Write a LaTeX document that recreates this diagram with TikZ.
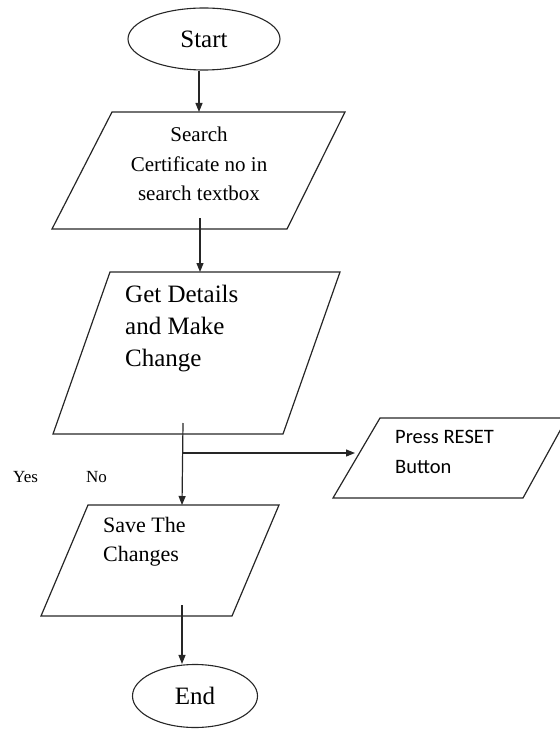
\documentclass[tikz,border=0pt]{standalone}
\usepackage{fontspec}
\setmainfont{Liberation Serif}
\newfontfamily\calib{Carlito}
\usetikzlibrary{arrows.meta,shapes.geometric}
\begin{document}
\begin{tikzpicture}[x=1pt,y=-1pt,
  shp/.style={draw=black!85, line width=1.2pt, line join=miter},
  ln/.style={draw=black!85, line width=1.2pt},
  arr/.style={draw=black!85, line width=1.2pt, -{Triangle[length=9pt,width=7pt]}},
  term/.style={ellipse, draw=black!85, line width=1.1pt, inner sep=0pt},
  txt/.style={inner sep=0pt},
]
\useasboundingbox (0,0) rectangle (559,730);

% terminals
\node[term, minimum width=152pt, minimum height=62pt, font=\fontsize{25}{30}\selectfont] (start) at (204,39) {Start};
\node[term, minimum width=125pt, minimum height=63pt, font=\fontsize{25}{30}\selectfont] (endn) at (195,696) {End};

% parallelograms
\draw[shp] (112,112) -- (345,112) -- (287,229) -- (52,229) -- cycle;
\node[txt, align=center, font=\fontsize{21}{29.5}\selectfont] (t1) at (199,164) {Search\\Certificate no in\\search textbox};

\draw[shp] (110,272) -- (340,272) -- (283,434) -- (53,434) -- cycle;
\node[txt, align=left, anchor=north west, font=\fontsize{25}{32}\selectfont] (t2) at (125,285) {Get Details\\and Make\\Change};

\draw[shp] (88,505) -- (279,505) -- (232,616) -- (41,616) -- cycle;
\node[txt, align=left, anchor=north west, font=\fontsize{22}{29}\selectfont] (t3) at (103,517) {Save The\\Changes};

\draw[shp] (380,418) -- (567,418) -- (523,498) -- (333,498) -- cycle;
\node[txt, align=left, anchor=north west, font=\calib\fontsize{20.5}{30}\selectfont] (t4) at (395,430) {Press RESET\\Button};

% labels
\node[txt, anchor=base west, font=\fontsize{17}{20}\selectfont] (yes) at (13,482) {Yes};
\node[txt, anchor=base west, font=\fontsize{17}{20}\selectfont] (no) at (86,482) {No};

% connector points
\coordinate (p1top) at (199,112);
\coordinate (p1out) at (200,218);
\coordinate (p2top) at (200,272);
\coordinate (p2out) at (183,423);
\coordinate (branch) at (183,453);
\coordinate (p4in) at (355,453);
\coordinate (p3top) at (182,505);
\coordinate (p3out) at (182,605);

% connectors
\draw[arr] (start.south -| p1top) -- (p1top);
\draw[arr] (p1out) -- (p2top);
\draw[arr] (p2out) -- (p3top);
\draw[arr] (branch) -- (p4in);
\draw[arr] (p3out) -- (p3out |- endn.north);
\end{tikzpicture}
\end{document}
